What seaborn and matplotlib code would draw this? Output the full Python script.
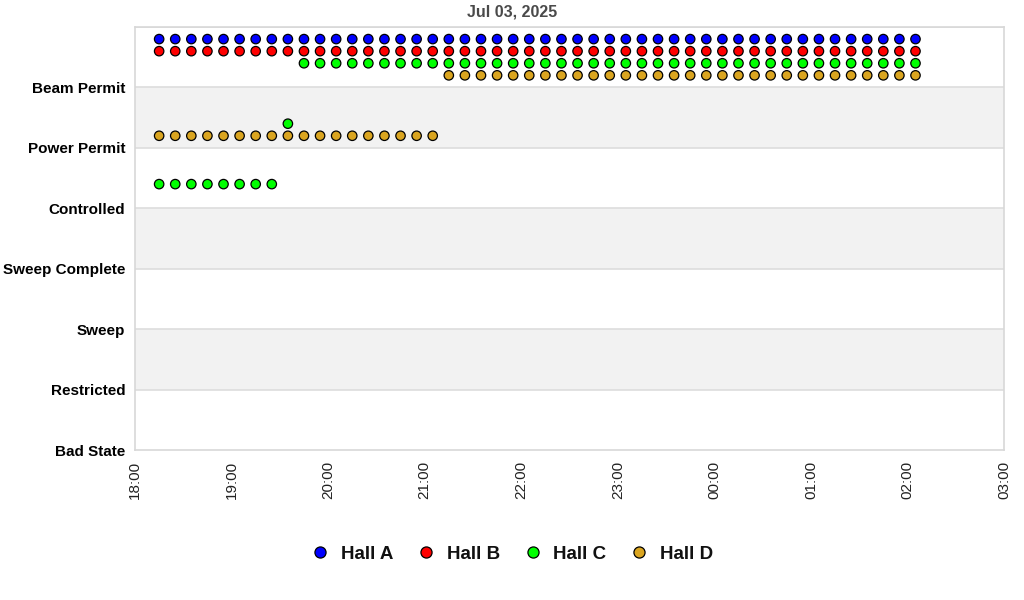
import numpy as np
import pandas as pd
import matplotlib
matplotlib.use("Agg")
import matplotlib.pyplot as plt
import matplotlib.dates as mdates
import seaborn as sns
from matplotlib.lines import Line2D

# ---- data ----
title = "Jul 03, 2025"
states = ["Bad State", "Restricted", "Sweep", "Sweep Complete", "Controlled", "Power Permit", "Beam Permit"]
halls = ["Hall A", "Hall B", "Hall C", "Hall D"]
hall_colors = ["#0000ff", "#ff0000", "#00ff00", "#daa520"]
hall_offsets = [0.8, 0.6, 0.4, 0.2]
sample_start = "2025-07-03 18:15"
sample_count = 48
sample_freq = "10min"
hall_a_states = ["Beam Permit"] * 48
hall_b_states = ["Beam Permit"] * 48
hall_c_states = ["Controlled"] * 8 + ["Power Permit"] * 1 + ["Beam Permit"] * 39
hall_d_states = ["Power Permit"] * 18 + ["Beam Permit"] * 30
xtick_labels = ["18:00", "19:00", "20:00", "21:00", "22:00", "23:00", "00:00", "01:00", "02:00", "03:00"]

times = pd.date_range(sample_start, periods=sample_count, freq=sample_freq)
rows = []
for hall, st, off in zip(halls, [hall_a_states, hall_b_states, hall_c_states, hall_d_states], hall_offsets):
    for t, s in zip(times, st):
        rows.append({"time": t, "hall": hall, "y": states.index(s) + off})
df = pd.DataFrame(rows)

sns.set_theme(style="white")
plt.rcParams["font.family"] = ["Liberation Sans", "DejaVu Sans"]

fig = plt.figure(figsize=(10.24, 6.0), dpi=100)
ax = fig.add_axes([135 / 1024, 150 / 600, (1004 - 135) / 1024, (450 - 27) / 600])

# alternating bands
for i in range(len(states) + 1):
    if i % 2 == 1:
        ax.axhspan(i, i + 1, color="#f2f2f2", zorder=0, lw=0)
for i in range(1, len(states) + 1):
    ax.axhline(i, color="#dddddd", lw=1.2, zorder=0.5)

sns.scatterplot(data=df, x="time", y="y", hue="hall", hue_order=halls,
                palette=hall_colors, s=46, edgecolor="black", linewidth=0.9,
                ax=ax, zorder=3, legend=False)

x0 = pd.Timestamp("2025-07-03 18:00")
x1 = pd.Timestamp("2025-07-04 03:00")
ax.set_xlim(x0, x1)
ax.set_ylim(0, len(states))
ax.set_yticks(range(len(states)))
ax.set_yticklabels(states, fontsize=11, fontweight="bold", color="#000000")
xt = pd.date_range(x0, x1, freq="1h")
ax.set_xticks(xt)
ax.set_xticklabels(xtick_labels, rotation=90, fontsize=11, color="#222222")
ax.tick_params(axis="both", length=0)
ax.tick_params(axis="x", pad=8)
ax.tick_params(axis="y", pad=7)
ax.set_xlabel("")
ax.set_ylabel("")
for sp in ax.spines.values():
    sp.set_color("#d8d8d8")
    sp.set_linewidth(1.2)

fig.text(0.5, 1 - 12 / 600, title, ha="center", va="center",
         fontsize=11.5, fontweight="bold", color="#4a4a4a")

handles = [Line2D([0], [0], marker="o", ls="", markerfacecolor=c, markeredgecolor="black",
                  markeredgewidth=0.9, markersize=8) for c in hall_colors]
leg = fig.legend(handles, halls, loc="center", bbox_to_anchor=(0.5, 1 - 554 / 600),
                 ncol=4, frameon=False, prop={"size": 13.5, "weight": "bold"},
                 handletextpad=0.6, columnspacing=1.25, handlelength=1.0)
for t in leg.get_texts():
    t.set_color("#111111")

fig.savefig("out.png", dpi=100)
